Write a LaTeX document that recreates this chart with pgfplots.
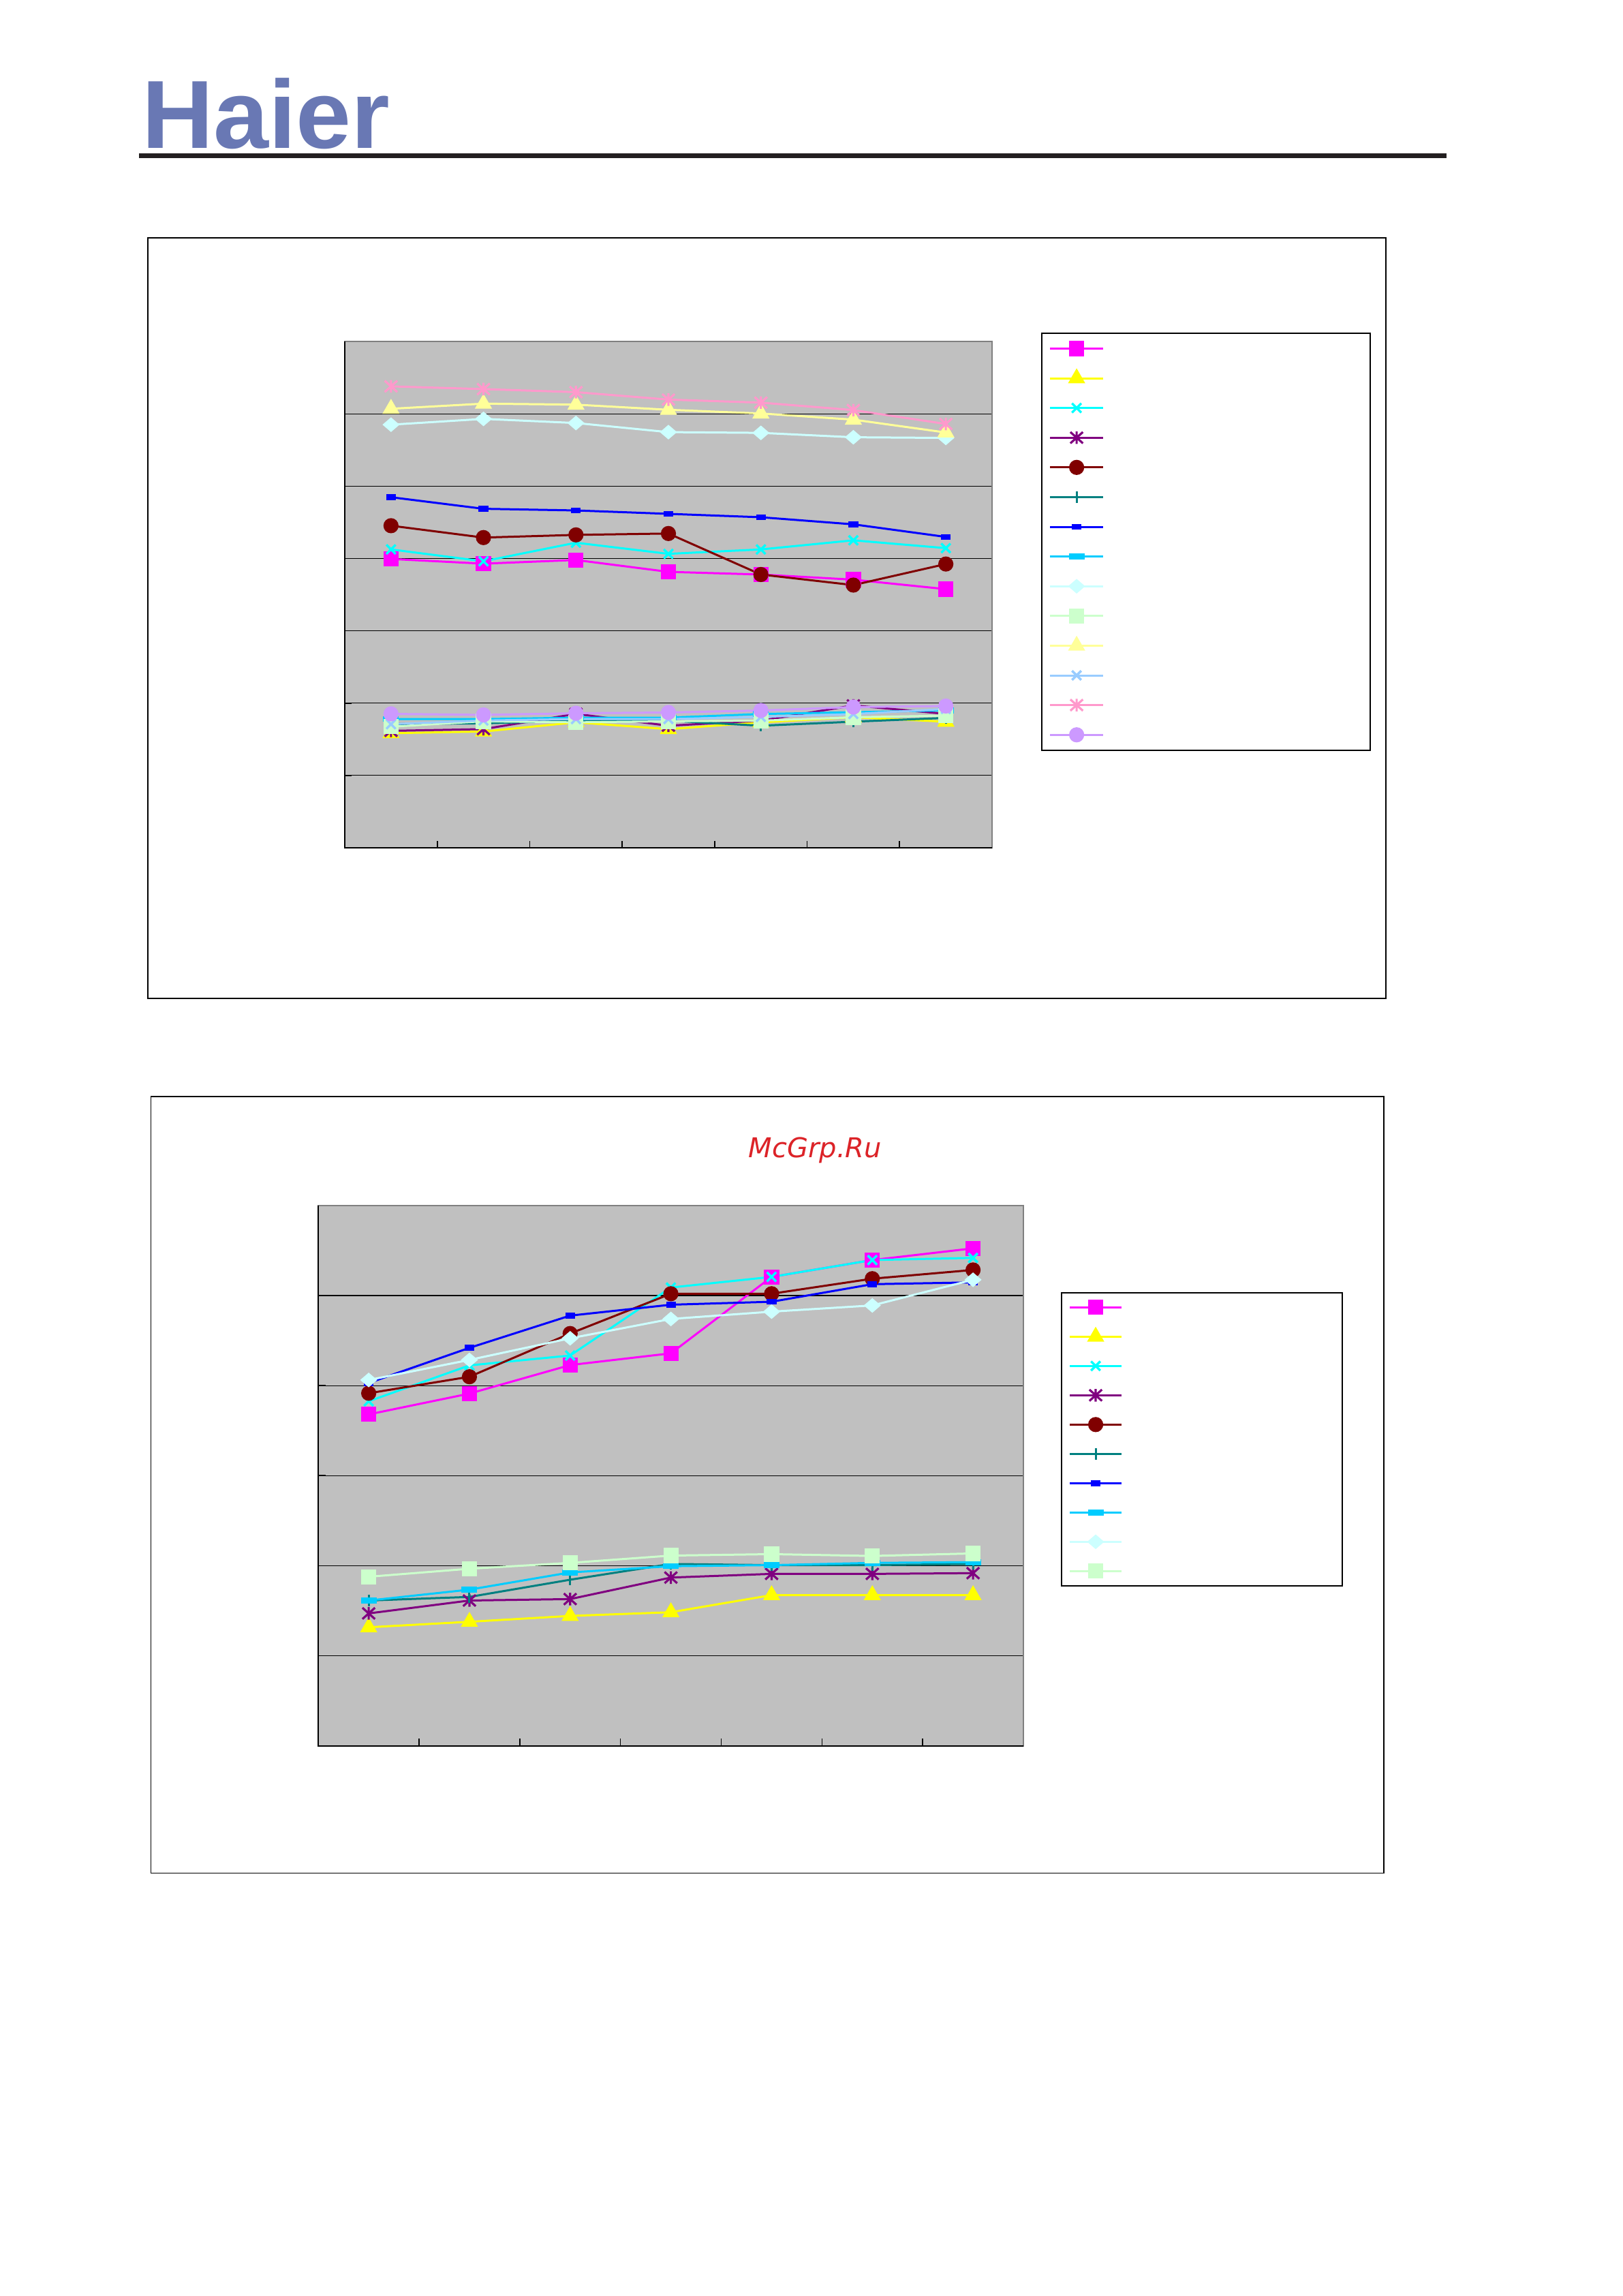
\documentclass[border=0pt]{standalone}
\usepackage{fontspec}
\setmainfont{Liberation Sans}
\newfontfamily\djv{DejaVu Sans}
\usepackage{pgfplots}
\pgfplotsset{compat=1.18}
\definecolor{c1}{HTML}{FF00FF}
\definecolor{c2}{HTML}{FFFF00}
\definecolor{c3}{HTML}{00FFFF}
\definecolor{c4}{HTML}{800080}
\definecolor{c5}{HTML}{800000}
\definecolor{c6}{HTML}{008080}
\definecolor{c7}{HTML}{0000FF}
\definecolor{c8}{HTML}{00CCFF}
\definecolor{c9}{HTML}{CCFFFF}
\definecolor{c10}{HTML}{CCFFCC}
\definecolor{c11}{HTML}{FFFF99}
\definecolor{c12}{HTML}{99CCFF}
\definecolor{c13}{HTML}{FF99CC}
\definecolor{c14}{HTML}{CC99FF}
\definecolor{plotgray}{HTML}{C0C0C0}
\definecolor{framegray}{HTML}{808080}
\definecolor{logoblue}{RGB}{105,120,180}
\definecolor{rulecol}{RGB}{35,31,32}
\definecolor{wmred}{RGB}{220,35,40}
\pgfdeclareplotmark{xstar}{%
  \pgfpathmoveto{\pgfqpoint{0pt}{-\pgfplotmarksize}}\pgfpathlineto{\pgfqpoint{0pt}{\pgfplotmarksize}}%
  \pgfpathmoveto{\pgfqpoint{-\pgfplotmarksize}{-.9\pgfplotmarksize}}\pgfpathlineto{\pgfqpoint{\pgfplotmarksize}{.9\pgfplotmarksize}}%
  \pgfpathmoveto{\pgfqpoint{-\pgfplotmarksize}{.9\pgfplotmarksize}}\pgfpathlineto{\pgfqpoint{\pgfplotmarksize}{-.9\pgfplotmarksize}}%
  \pgfusepathqstroke}
\pgfplotsset{
  chartbase/.style={
    scale only axis, xmin=-0.5, xmax=6.5, ymin=0,
    axis background/.style={fill=plotgray},
    axis line style={draw=framegray, line width=0.5pt},
    xtick={-0.5,0.5,...,6.5}, xticklabels={},
    xtick pos=bottom, ytick pos=left, yticklabels={},
    tick align=inside, major tick length=2.6pt,
    tick style={black, line width=0.4pt},
    ymajorgrids, grid style={black, line width=0.3pt},
    legend cell align=left,
    after end axis/.code={\draw[black,line width=0.45pt] (rel axis cs:0,1) -- (rel axis cs:0,0) -- (rel axis cs:1,0);},
  },
  s1/.style={color=c1, line width=0.75pt, mark=square*, mark size=2.4pt},
  s2/.style={color=c2, line width=0.75pt, mark=triangle*, mark size=2.9pt},
  s3/.style={color=c3, line width=0.75pt, mark=x, mark size=2.4pt, mark options={line width=0.85pt}},
  s4/.style={color=c4, line width=0.75pt, mark=xstar, mark size=2.3pt, mark options={line width=0.8pt}},
  s5/.style={color=c5, line width=0.75pt, mark=*, mark size=2.4pt},
  s6/.style={color=c6, line width=0.75pt, mark=|, mark size=2.1pt, mark options={line width=0.75pt}},
  s7/.style={color=c7, line width=0.75pt, mark=square*, mark size=1pt, mark options={xscale=1.4,yscale=0.7}},
  s8/.style={color=c8, line width=0.75pt, mark=square*, mark size=1pt, mark options={xscale=2.5,yscale=0.7}},
  s9/.style={color=c9, line width=0.75pt, mark=diamond*, mark size=2.2pt, mark options={xscale=1.55}},
  s10/.style={color=c10, line width=0.75pt, mark=square*, mark size=2.4pt},
  s11/.style={color=c11, line width=0.75pt, mark=triangle*, mark size=2.9pt},
  s12/.style={color=c12, line width=0.75pt, mark=x, mark size=2.4pt, mark options={line width=0.85pt}},
  s13/.style={color=c13, line width=0.75pt, mark=xstar, mark size=2.3pt, mark options={line width=0.8pt}},
  s14/.style={color=c14, line width=0.75pt, mark=*, mark size=2.4pt},
}
\newcommand\LA{\makebox[94.9pt]{}}
\newcommand\LB{\makebox[77.9pt]{}}
\begin{document}
\begin{tikzpicture}[x=1pt,y=1pt]
\fill[white] (0,0) rectangle (595.25,-842.25);
\path[use as bounding box] (0,0) rectangle (595.25,-842.25);
\node[anchor=base west, inner sep=0pt, text=logoblue, xscale=1.025, font=\fontsize{35.5}{40}\selectfont\bfseries] at (51.8,-54.3) {Haier};
\draw[line width=1.65pt, color=rulecol] (51,-57.2) -- (530.8,-57.2);
\draw[line width=0.4pt] (54.3,-87.3) rectangle (508.5,-366.3);
\draw[line width=0.4pt] (55.4,-402.2) rectangle (507.8,-687.1);
\node[anchor=base west, inner sep=0pt, text=wmred, font=\djv\itshape\fontsize{10}{12}\selectfont] at (274.5,-424.6) {McGrp.Ru};

\begin{axis}[chartbase, at={(126.5pt,-311pt)}, anchor=south west,
  width=237.5pt, height=185.7pt, ymax=7, ytick={1,...,7},
  legend image code/.code={\draw[mark repeat=2,mark phase=2,#1] plot coordinates {(0pt,0pt) (9.7pt,0pt) (19.4pt,0pt)};},
  legend style={at={(1.0758,1.0178)}, anchor=north west, draw=black, line width=0.4pt, fill=white,
    inner xsep=2.75pt, inner ysep=0.2pt, row sep=0pt, column sep=0pt,
    nodes={inner sep=0pt, text height=5.45pt, text depth=5.45pt}},
]
\addplot[s1] coordinates {(0,3.994) (1,3.929) (2,3.980) (3,3.816) (4,3.779) (5,3.708) (6,3.577)}; \addlegendentry{\LA}
\addplot[s2] coordinates {(0,1.585) (1,1.608) (2,1.735) (3,1.641) (4,1.735) (5,1.805) (6,1.744)}; \addlegendentry{\LA}
\addplot[s3] coordinates {(0,4.126) (1,3.962) (2,4.219) (3,4.065) (4,4.126) (5,4.252) (6,4.144)}; \addlegendentry{\LA}
\addplot[s4] coordinates {(0,1.617) (1,1.641) (2,1.852) (3,1.688) (4,1.758) (5,1.969) (6,1.852)}; \addlegendentry{\LA}
\addplot[s5] coordinates {(0,4.454) (1,4.290) (2,4.327) (3,4.346) (4,3.779) (5,3.633) (6,3.924)}; \addlegendentry{\LA}
\addplot[s6] coordinates {(0,1.711) (1,1.721) (2,1.758) (3,1.758) (4,1.688) (5,1.744) (6,1.796)}; \addlegendentry{\LA}
\addplot[s7] coordinates {(0,4.848) (1,4.688) (2,4.665) (3,4.618) (4,4.571) (5,4.473) (6,4.299)}; \addlegendentry{\LA}
\addplot[s8] coordinates {(0,1.78) (1,1.78) (2,1.80) (3,1.80) (4,1.85) (5,1.875) (6,1.90)}; \addlegendentry{\LA}
\addplot[s9] coordinates {(0,5.851) (1,5.931) (2,5.874) (3,5.748) (4,5.738) (5,5.677) (6,5.668)}; \addlegendentry{\LA}
\addplot[s10] coordinates {(0,1.674) (1,1.749) (2,1.735) (3,1.749) (4,1.758) (5,1.805) (6,1.828)}; \addlegendentry{\LA}
\addplot[s11] coordinates {(0,6.071) (1,6.142) (2,6.128) (3,6.057) (4,6.006) (5,5.921) (6,5.743)}; \addlegendentry{\LA}
\addplot[s12] coordinates {(0,1.71) (1,1.76) (2,1.78) (3,1.78) (4,1.81) (5,1.85) (6,1.92)}; \addlegendentry{\LA}
\addplot[s13] coordinates {(0,6.381) (1,6.343) (2,6.301) (3,6.198) (4,6.156) (5,6.053) (6,5.861)}; \addlegendentry{\LA}
\addplot[s14] coordinates {(0,1.852) (1,1.838) (2,1.861) (3,1.871) (4,1.899) (5,1.946) (6,1.960)}; \addlegendentry{\LA}
\end{axis}

\begin{axis}[chartbase, at={(116.8pt,-640.4pt)}, anchor=south west,
  width=258.7pt, height=198.2pt, ymax=6, ytick={1,...,6},
  legend image code/.code={\draw[mark repeat=2,mark phase=2,#1] plot coordinates {(0pt,0pt) (9.45pt,0pt) (18.9pt,0pt)};},
  legend style={at={(1.0533,0.8396)}, anchor=north west, draw=black, line width=0.4pt, fill=white,
    inner xsep=2.7pt, inner ysep=0pt, row sep=0pt, column sep=0pt,
    nodes={inner sep=0pt, text height=5.375pt, text depth=5.375pt}},
]
\addplot[s1] coordinates {(0,3.680) (1,3.911) (2,4.228) (3,4.358) (4,5.207) (5,5.394) (6,5.524)}; \addlegendentry{\LB}
\addplot[s2] coordinates {(0,1.316) (1,1.377) (2,1.442) (3,1.483) (4,1.673) (5,1.673) (6,1.673)}; \addlegendentry{\LB}
\addplot[s3] coordinates {(0,3.826) (1,4.224) (2,4.334) (3,5.089) (4,5.207) (5,5.394) (6,5.418)}; \addlegendentry{\LB}
\addplot[s4] coordinates {(0,1.470) (1,1.613) (2,1.629) (3,1.868) (4,1.909) (5,1.909) (6,1.917)}; \addlegendentry{\LB}
\addplot[s5] coordinates {(0,3.915) (1,4.098) (2,4.578) (3,5.020) (4,5.020) (5,5.187) (6,5.284)}; \addlegendentry{\LB}
\addplot[s6] coordinates {(0,1.613) (1,1.653) (2,1.844) (3,2.019) (4,2.006) (5,2.006) (6,2.019)}; \addlegendentry{\LB}
\addplot[s7] coordinates {(0,4.029) (1,4.419) (2,4.777) (3,4.898) (4,4.931) (5,5.126) (6,5.146)}; \addlegendentry{\LB}
\addplot[s8] coordinates {(0,1.613) (1,1.734) (2,1.925) (3,1.994) (4,2.006) (5,2.031) (6,2.039)}; \addlegendentry{\LB}
\addplot[s9] coordinates {(0,4.062) (1,4.285) (2,4.525) (3,4.740) (4,4.821) (5,4.890) (6,5.175)}; \addlegendentry{\LB}
\addplot[s10] coordinates {(0,1.877) (1,1.966) (2,2.031) (3,2.112) (4,2.128) (5,2.108) (6,2.136)}; \addlegendentry{\LB}
\end{axis}
\end{tikzpicture}
\end{document}
